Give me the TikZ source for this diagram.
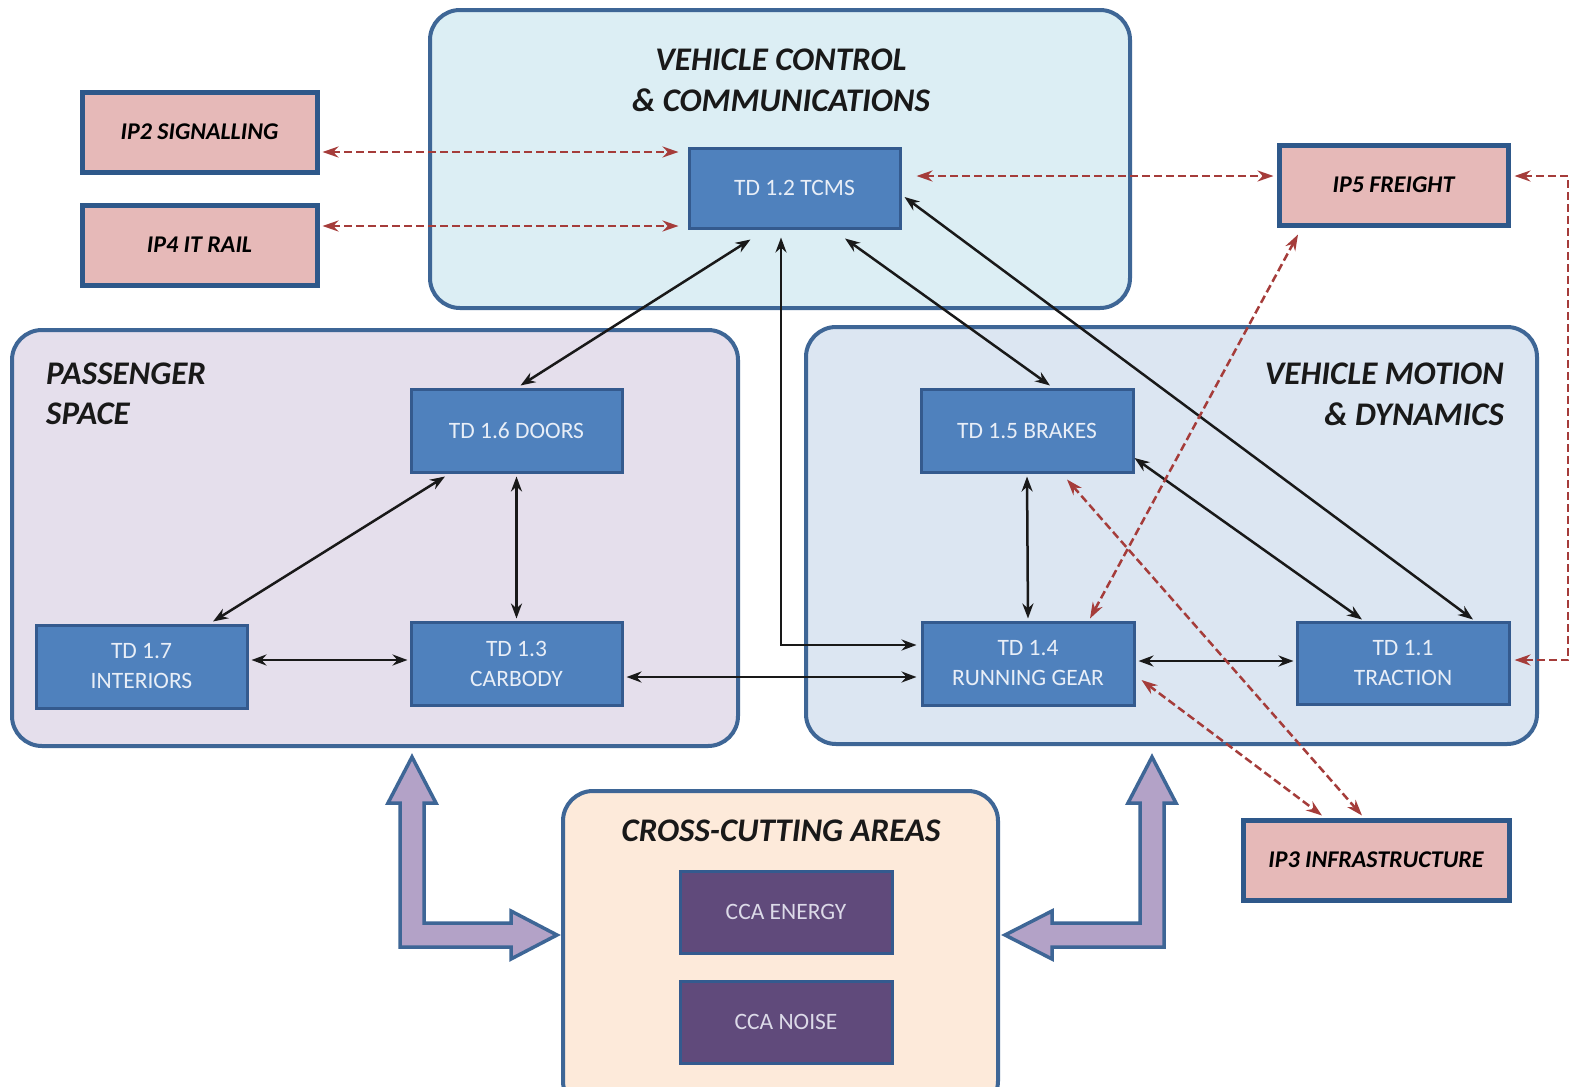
\documentclass[tikz,border=0pt]{standalone}
\usepackage{fontspec}
\setmainfont{Carlito}
\usetikzlibrary{arrows.meta,calc}
\definecolor{contborder}{RGB}{62,102,150}
\definecolor{vccfill}{RGB}{220,238,244}
\definecolor{psfill}{RGB}{229,223,236}
\definecolor{vmdfill}{RGB}{220,230,242}
\definecolor{ccfill}{RGB}{253,234,218}
\definecolor{tdfill}{RGB}{79,129,189}
\definecolor{tdborder}{RGB}{52,90,142}
\definecolor{tdtext}{RGB}{232,238,247}
\definecolor{ipfill}{RGB}{230,185,184}
\definecolor{ipborder}{RGB}{46,88,138}
\definecolor{ccafill}{RGB}{96,74,123}
\definecolor{ccatext}{RGB}{220,218,232}
\definecolor{redc}{RGB}{165,60,58}
\definecolor{arrowfill}{RGB}{179,162,199}
\begin{document}
\begin{tikzpicture}[x=1pt,y=-1pt,
  container/.style={draw=contborder, line width=4pt, rounded corners=30pt, inner sep=0pt},
  tdbox/.style={draw=tdborder, line width=3pt, fill=tdfill, text=tdtext, minimum width=211pt, minimum height=82pt, align=center, inner sep=0pt, font=\fontsize{23.5}{30}\selectfont},
  ipbox/.style={draw=ipborder, line width=5pt, fill=ipfill, text=black, minimum height=80pt, inner sep=0pt, font=\fontsize{24}{28}\selectfont\bfseries\itshape},
  ccabox/.style={draw=tdborder, line width=3pt, fill=ccafill, text=ccatext, minimum width=212pt, minimum height=82pt, inner sep=0pt, font=\fontsize{23.5}{30}\selectfont},
  titletext/.style={font=\fontsize{33}{40}\selectfont\bfseries\itshape, text=black!90, inner sep=0pt},
  biarrow/.style={{Stealth[length=15pt,width=11pt]}-{Stealth[length=15pt,width=11pt]}, line width=2.5pt, draw=black!90},
  redarrow/.style={{Stealth[length=16pt,width=11pt]}-{Stealth[length=16pt,width=11pt]}, line width=2.5pt, draw=redc, dash pattern=on 8pt off 4pt},
  bigarrow/.style={fill=arrowfill, draw=contborder, line width=3.5pt, line join=miter}
]
\clip (0,0) rectangle (1569,1087);
\fill[white] (0,0) rectangle (1569,1087);

% containers
\node[container, fill=vccfill, minimum width=700pt, minimum height=298pt] (vcc) at (780,159) {};
\node[container, fill=psfill, minimum width=726pt, minimum height=416pt] (ps) at (375,538) {};
\node[container, fill=vmdfill, minimum width=731pt, minimum height=417pt] (vmd) at (1171.5,535.5) {};
\node[container, fill=ccfill, minimum width=435pt, minimum height=320pt] (cca) at (780.5,951) {};

% titles
\node[titletext] (t1) at (781,60) {VEHICLE CONTROL};
\node[titletext] (t2) at (781,100) {\& COMMUNICATIONS};
\node[titletext, anchor=west] (t3) at (46,374) {PASSENGER};
\node[titletext, anchor=west] (t4) at (46,414) {SPACE};
\node[titletext, anchor=east] (t5) at (1504,374) {VEHICLE MOTION};
\node[titletext, anchor=east] (t6) at (1504,414) {\& DYNAMICS};
\node[titletext] (t7) at (781,831) {CROSS-CUTTING AREAS};

% big arrows
\draw[bigarrow] (412,757) -- (436,803) -- (424,803) -- (424,923) -- (511,923) -- (511,911) -- (557,935) -- (511,959) -- (511,947) -- (400,947) -- (400,803) -- (388,803) -- cycle;
\draw[bigarrow] (1152,757) -- (1176,803) -- (1164,803) -- (1164,947) -- (1052,947) -- (1052,959) -- (1005,935) -- (1052,911) -- (1052,923) -- (1140,923) -- (1140,803) -- (1128,803) -- cycle;

% TD boxes
\node[tdbox, minimum height=80pt] (tcms) at (794.5,188) {TD 1.2 TCMS};
\node[tdbox, minimum height=83pt] (doors) at (516.5,430.5) {TD 1.6 DOORS};
\node[tdbox, minimum height=83pt] (interiors) at (141.5,666.5) {TD 1.7\\INTERIORS};
\node[tdbox, minimum height=83pt] (carbody) at (516.5,663.5) {TD 1.3\\CARBODY};
\node[tdbox, minimum width=212pt, minimum height=83pt] (brakes) at (1027,430.5) {TD 1.5 BRAKES};
\node[tdbox, minimum width=212pt, minimum height=83pt] (running) at (1028,663.5) {TD 1.4\\RUNNING GEAR};
\node[tdbox, minimum width=212pt, minimum height=82pt] (traction) at (1403,663) {TD 1.1\\TRACTION};

% IP boxes
\node[ipbox, minimum width=235pt] (ip2) at (199.5,132) {IP2 SIGNALLING};
\node[ipbox, minimum width=235pt] (ip4) at (199.5,245) {IP4 IT RAIL};
\node[ipbox, minimum width=229pt] (ip5) at (1393.5,185) {IP5 FREIGHT};
\node[ipbox, minimum width=266pt] (ip3) at (1376,860) {IP3 INFRASTRUCTURE};

% CCA boxes
\node[ccabox] (energy) at (786,912) {CCA ENERGY};
\node[ccabox] (noise) at (786,1022) {CCA NOISE};

% black connectors
\draw[biarrow] ([shift={(-44,10)}]tcms.south) -- ([shift={(4,-2)}]doors.north);
\draw[biarrow] ([shift={(-13.5,8)}]tcms.south) |- ([shift={(-4,-18.5)}]running.west);
\draw[biarrow] ([shift={(50.5,9)}]tcms.south) -- ([shift={(23,-2)}]brakes.north);
\draw[biarrow] ([shift={(3,9)}]tcms.east) -- ([shift={(70,-1)}]traction.north);
\draw[biarrow] ([shift={(0,27.5)}]brakes.east) -- ([shift={(-41,-1)}]traction.north);
\draw[biarrow] ([shift={(-71.5,3)}]doors.south) -- ([shift={(71.5,-2)}]interiors.north);
\draw[biarrow] ([shift={(0,3)}]doors.south) -- ([shift={(0,-2)}]carbody.north);
\draw[biarrow] ([shift={(3,-6.5)}]interiors.east) -- ([shift={(-2,-3.5)}]carbody.west);
\draw[biarrow] ([shift={(3,13.5)}]carbody.east) -- ([shift={(-4,13.5)}]running.west);
\draw[biarrow] ([shift={(0,3)}]brakes.south) -- ([shift={(0,-2)}]running.north);
\draw[biarrow] ([shift={(3,-2.5)}]running.east) -- ([shift={(-2,-2)}]traction.west);

% red dashed connectors
\draw[redarrow] ([shift={(3,20)}]ip2.east) -- ([shift={(-9,-36)}]tcms.west);
\draw[redarrow] ([shift={(3,-19)}]ip4.east) -- ([shift={(-9,38)}]tcms.west);
\draw[redarrow] ([shift={(15,-12)}]tcms.east) -- ([shift={(-3,-9)}]ip5.west);
\draw[redarrow] ([shift={(4,-9)}]ip5.east) -- ++(54,0) |- ([shift={(4,-3)}]traction.east);
\draw[redarrow] ([shift={(-95.5,7)}]ip5.south) -- ([shift={(62,-2)}]running.north);
\draw[redarrow] ([shift={(40,6)}]brakes.south) -- ([shift={(-14,-2)}]ip3.north);
\draw[redarrow] ([shift={(6,16.5)}]running.east) -- ([shift={(-54,-2)}]ip3.north);
\end{tikzpicture}
\end{document}
